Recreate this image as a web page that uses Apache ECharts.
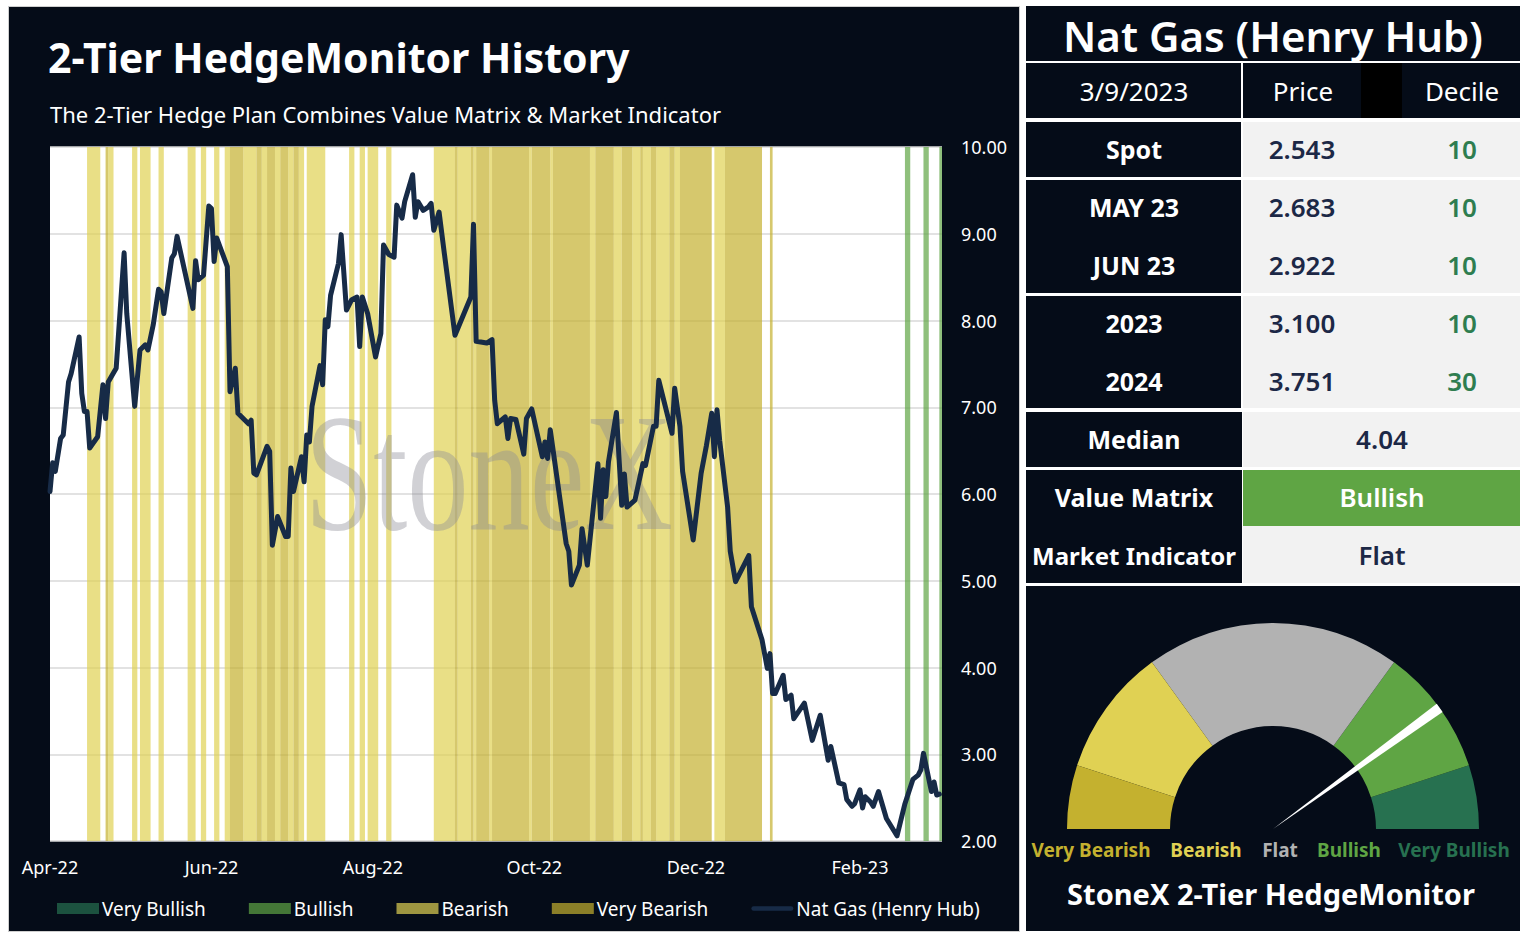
<!DOCTYPE html>
<html>
<head>
<meta charset="utf-8">
<script src="https://cdn.jsdelivr.net/npm/echarts@6/dist/echarts.min.js"></script>
<style>
html, body { margin: 0; padding: 0; background: #fff; }
#main { width: 1532px; height: 938px; }
</style>
</head>
<body>
<div id="main"></div>
<script>
// 数据 —— Henry Hub 价格
var priceDates = [
	'2022-04-01','2022-04-02','2022-04-03','2022-04-05','2022-04-06','2022-04-08','2022-04-09','2022-04-12','2022-04-13','2022-04-14',
	'2022-04-15','2022-04-16','2022-04-19','2022-04-21','2022-04-22','2022-04-23','2022-04-26','2022-04-29','2022-04-30','2022-05-03',
	'2022-05-05','2022-05-07','2022-05-08','2022-05-10','2022-05-12','2022-05-13','2022-05-14','2022-05-17','2022-05-18','2022-05-19',
	'2022-05-25','2022-05-26','2022-05-27','2022-05-29','2022-05-31','2022-06-01','2022-06-02','2022-06-03','2022-06-07','2022-06-08',
	'2022-06-10','2022-06-11','2022-06-15','2022-06-16','2022-06-17','2022-06-18','2022-06-22','2022-06-23','2022-06-24','2022-06-26',
	'2022-06-29','2022-06-30','2022-07-01','2022-07-02','2022-07-05','2022-07-06','2022-07-07','2022-07-08','2022-07-09','2022-07-12',
	'2022-07-13','2022-07-14','2022-07-15','2022-07-16','2022-07-19','2022-07-20','2022-07-22','2022-07-24','2022-07-26','2022-07-27',
	'2022-07-28','2022-07-30','2022-08-02','2022-08-04','2022-08-05','2022-08-07','2022-08-09','2022-08-10','2022-08-12','2022-08-13',
	'2022-08-16','2022-08-17','2022-08-18','2022-08-20','2022-08-22','2022-08-23','2022-08-24','2022-08-26','2022-08-28','2022-09-01',
	'2022-09-07','2022-09-08','2022-09-09','2022-09-13','2022-09-15','2022-09-16','2022-09-17','2022-09-20','2022-09-21','2022-09-22',
	'2022-09-24','2022-09-27','2022-09-28','2022-09-30','2022-10-04','2022-10-05','2022-10-06','2022-10-07','2022-10-13','2022-10-14',
	'2022-10-15','2022-10-18','2022-10-19','2022-10-21','2022-10-25','2022-10-26','2022-10-27','2022-10-28','2022-10-29','2022-11-01',
	'2022-11-03','2022-11-04','2022-11-05','2022-11-08','2022-11-11','2022-11-12','2022-11-15','2022-11-16','2022-11-17','2022-11-22',
	'2022-11-23','2022-11-25','2022-11-26','2022-11-30','2022-12-03','2022-12-05','2022-12-07','2022-12-08','2022-12-09','2022-12-10',
	'2022-12-13','2022-12-14','2022-12-16','2022-12-21','2022-12-22','2022-12-26','2022-12-28','2022-12-29','2022-12-30','2022-12-31',
	'2023-01-03','2023-01-04','2023-01-06','2023-01-07','2023-01-11','2023-01-14','2023-01-17','2023-01-20','2023-01-21','2023-01-24',
	'2023-01-26','2023-01-27','2023-01-29','2023-01-30','2023-02-01','2023-02-02','2023-02-03','2023-02-05','2023-02-06','2023-02-08',
	'2023-02-11','2023-02-15','2023-02-18','2023-02-21','2023-02-23','2023-02-24','2023-02-25','2023-02-28','2023-03-01','2023-03-02',
	'2023-03-03'
];
var priceValues = [
	6.03,6.36,6.26,6.64,6.68,7.29,7.39,7.81,7.16,6.95,
	6.95,6.53,6.66,7.26,6.87,7.29,7.45,8.78,8.08,7.01,
	7.66,7.72,7.66,7.95,8.36,8.33,8.08,8.72,8.77,8.97,
	8.14,8.69,8.47,8.52,9.32,9.29,8.68,8.95,8.62,7.18,
	7.45,6.93,6.81,6.85,6.24,6.22,6.55,6.49,5.41,5.74,
	5.51,5.51,6.30,6.03,6.43,6.14,6.68,6.60,7.01,7.48,
	7.26,8.01,7.93,8.29,8.66,8.99,8.12,8.24,8.27,7.70,
	8.27,8.08,7.58,7.85,8.87,8.76,8.73,9.33,9.18,9.37,
	9.68,9.19,9.37,9.27,9.31,9.35,9.04,9.25,8.77,7.83,
	8.27,9.11,7.76,7.74,7.78,7.08,6.81,6.89,6.64,6.87,
	6.86,6.46,6.87,6.98,6.43,6.60,6.41,6.74,5.43,5.34,
	4.95,5.18,5.60,5.18,6.35,5.72,6.28,5.97,6.37,6.94,
	5.87,6.23,5.85,5.93,6.35,6.33,6.78,6.78,7.31,6.70,
	7.22,6.78,6.26,5.47,6.24,6.56,6.93,6.43,6.97,6.62,
	5.85,5.34,4.99,5.29,4.70,4.32,3.99,4.16,3.70,3.70,
	3.91,3.63,3.68,3.41,3.59,3.16,3.45,2.93,3.09,2.67,
	2.65,2.48,2.40,2.43,2.59,2.38,2.51,2.45,2.40,2.57,
	2.26,2.06,2.43,2.71,2.76,2.82,3.01,2.57,2.68,2.53,
	2.54
];

// 信号区间 [开始, 结束]
var bearishRanges = [
	['2022-04-15','2022-04-20'],['2022-04-23','2022-04-25'],['2022-05-02','2022-05-04'],['2022-05-05','2022-05-09'],
	['2022-05-12','2022-05-14'],['2022-05-23','2022-05-26'],['2022-05-28','2022-05-30'],['2022-06-02','2022-06-04'],
	['2022-06-06','2022-06-08'],['2022-06-13','2022-06-18'],['2022-06-20','2022-06-22'],['2022-06-25','2022-06-27'],
	['2022-06-30','2022-07-02'],['2022-07-04','2022-07-06'],['2022-07-07','2022-07-14'],['2022-07-23','2022-07-25'],
	['2022-07-27','2022-07-29'],['2022-07-30','2022-08-03'],['2022-08-06','2022-08-08'],['2022-08-24','2022-09-01'],
	['2022-09-02','2022-09-07'],['2022-09-08','2022-09-09'],['2022-09-14','2022-09-15'],['2022-09-29','2022-09-30'],
	['2022-10-07','2022-10-08'],['2022-10-22','2022-10-24'],['2022-10-31','2022-11-03'],['2022-11-07','2022-11-10'],
	['2022-11-11','2022-11-14'],['2022-11-16','2022-11-21'],['2022-11-23','2022-11-25'],['2022-12-08','2022-12-12']
];
var veryBearishRanges = [
	['2022-04-22','2022-04-23'],['2022-06-08','2022-06-13'],['2022-06-18','2022-06-20'],['2022-06-22','2022-06-25'],
	['2022-06-27','2022-06-30'],['2022-07-02','2022-07-04'],['2022-09-01','2022-09-02'],['2022-09-07','2022-09-08'],
	['2022-09-09','2022-09-14'],['2022-09-15','2022-09-29'],['2022-09-30','2022-10-07'],['2022-10-08','2022-10-22'],
	['2022-10-24','2022-10-31'],['2022-11-03','2022-11-07'],['2022-11-10','2022-11-11'],['2022-11-14','2022-11-16'],
	['2022-11-21','2022-11-23'],['2022-11-25','2022-12-07'],['2022-12-12','2022-12-26'],['2022-12-29','2022-12-30']
];
var bullishRanges = [
	['2023-02-18','2023-02-20'],['2023-02-25','2023-02-27'],['2023-03-03','2023-03-04']
];
var veryBullishRanges = [];

// 坐标轴
var xStart = '2022-04-01', xEnd = '2023-03-04';
var monthTicks = ['2022-04-01','2022-06-01','2022-08-01','2022-10-01','2022-12-01','2023-02-01'];
var monthLabels = ['Apr-22','Jun-22','Aug-22','Oct-22','Dec-22','Feb-23'];

// 右侧表格
var tableDate = '3/9/2023';
var tableCols = ['Price', 'Decile'];
var contractNames = ['Spot', 'MAY 23', 'JUN 23', '2023', '2024'];
var contractPrices = ['2.543', '2.683', '2.922', '3.100', '3.751'];
var contractDeciles = ['10', '10', '10', '10', '30'];
var medianValue = '4.04';
var signalNames = ['Value Matrix', 'Market Indicator'];
var signalValues = ['Bullish', 'Flat'];

// 仪表盘
var gaugeLabels = ['Very Bearish', 'Bearish', 'Flat', 'Bullish', 'Very Bullish'];
var gaugeStops = [0.1, 0.3, 0.7, 0.9, 1];
var gaugeReading = 0.8;

var FONT = '"Noto Sans", Lato, sans-serif';
var NAVY = '#050c18';
var colorHM = [
	'#c4b12f',   // very bearish
	'#e0d153',   // bearish
	'#b2b2b2',   // flat
	'#5fa544',   // bullish
	'#277150',   // very bullish
	'#172b47',   // 折线
	'#1c2846',   // 价格字
	'#2e7d50'    // decile 字
];
var bandAlpha = { '#c4b12f': 'rgba(196,177,47,0.7)', '#e0d153': 'rgba(224,209,83,0.7)',
	'#5fa544': 'rgba(95,165,68,0.7)', '#277150': 'rgba(39,113,80,0.7)' };

function ts(s){ return echarts.number.parseDate(s).getTime(); }
var tickTimes = monthTicks.map(ts);
var DAY = 86400000;

function txt(x, y, s, size, color, weight, align){
	return {
		type: 'text', x: x, y: y, z: 10, silent: true,
		style: {
			text: s, fill: color,
			font: (weight || 'normal') + ' ' + size + 'px ' + FONT,
			textAlign: align || 'center', textVerticalAlign: 'middle'
		}
	};
}
function box(x, y, w, h, fill, z){
	return { type: 'rect', z: z || 0, silent: true, shape: { x: x, y: y, width: w, height: h }, style: { fill: fill } };
}

// 背景与表格
function GetGraphic(){
	var g = [];
	g.push({ type: 'rect', z: 0, silent: true, shape: { x: 8.5, y: 6.5, width: 1011, height: 925 },
		style: { fill: NAVY, stroke: '#cfcfcf', lineWidth: 1 } });
	g.push(box(50, 147, 892, 694, '#fff', 0));
	g.push(txt(48, 57, '2-Tier HedgeMonitor History', 41, '#fff', 'bold', 'left'));
	g.push(txt(50, 114, 'The 2-Tier Hedge Plan Combines Value Matrix & Market Indicator', 22, '#fff', 'normal', 'left'));
	// 水印
	g.push({ type: 'text', x: 305, y: 472, scaleX: 0.73, z: 2, silent: true,
		style: { text: 'StoneX', font: '168px "Liberation Serif", "DejaVu Serif", serif',
			fill: 'rgba(140,140,150,0.40)', textAlign: 'left', textVerticalAlign: 'middle' } });

	// 右侧面板
	g.push(box(1026, 6, 494, 55, NAVY));
	g.push(txt(1273, 35, 'Nat Gas (Henry Hub)', 42, '#fff', '600'));
	g.push(box(1026, 63, 215, 55, NAVY));
	g.push(box(1243, 63, 277, 55, NAVY));
	g.push(box(1361, 63, 41, 55, '#000'));
	g.push(txt(1134, 91, tableDate, 26, '#fff'));
	g.push(txt(1303, 91, tableCols[0], 26, '#fff'));
	g.push(txt(1462, 91, tableCols[1], 26, '#fff'));

	var blocks = [[122, 55], [180, 113], [296, 112]];
	var rowY = [149, 207, 265, 323, 381];
	blocks.forEach(function(b){
		g.push(box(1026, b[0], 215, b[1], NAVY));
		g.push(box(1243, b[0], 277, b[1], '#f2f2f2'));
	});
	contractNames.forEach(function(n, i){
		g.push(txt(1134, rowY[i], n, 25, '#fff', 'bold'));
		g.push(txt(1302, rowY[i], contractPrices[i], 26, colorHM[6], '600'));
		g.push(txt(1462, rowY[i], contractDeciles[i], 26, colorHM[7], '600'));
	});
	g.push(box(1026, 412, 216, 55, NAVY));
	g.push(box(1243, 412, 277, 55, '#f2f2f2'));
	g.push(txt(1134, 439, 'Median', 25, '#fff', 'bold'));
	g.push(txt(1382, 439, medianValue, 26, colorHM[6], '600'));

	g.push(box(1026, 470, 216, 113, NAVY));
	g.push(box(1243, 470, 277, 56, colorHM[3]));
	g.push(box(1243, 526, 277, 57, '#f2f2f2'));
	g.push(txt(1134, 497, signalNames[0], 25, '#fff', 'bold'));
	g.push(txt(1134, 555, signalNames[1], 24, '#fff', 'bold'));
	g.push(txt(1382, 497, signalValues[0], 26, '#fff', '600'));
	g.push(txt(1382, 555, signalValues[1], 26, colorHM[6], '600'));

	// 仪表盘面板
	g.push(box(1026, 586, 494, 345, NAVY));
	var labelX = [1091, 1206, 1280, 1349, 1454];
	gaugeLabels.forEach(function(l, i){
		g.push(txt(labelX[i], 850, l, 19, colorHM[i], 'bold'));
	});
	g.push(txt(1271, 893, 'StoneX 2-Tier HedgeMonitor', 29, '#fff', 'bold'));
	return g;
}

function GetBandSeries(name, color, ranges){
	var c = bandAlpha[color];
	return {
		name: name, type: 'line', data: [], silent: true,
		itemStyle: { color: c }, lineStyle: { color: c },
		markArea: {
			silent: true,
			itemStyle: { color: c, opacity: 1, borderWidth: 0 },
			data: ranges.map(function(r){ return [{ xAxis: r[0] }, { xAxis: r[1] }]; })
		}
	};
}

var chart = echarts.init(document.getElementById('main'), null, { renderer: 'svg' });
chart.setOption({
	animation: false,
	backgroundColor: '#fff',
	graphic: { elements: GetGraphic() },
	grid: { left: 50, top: 147, width: 892, height: 694, containLabel: false },
	legend: {
		left: 52, top: 894, itemWidth: 42, itemHeight: 11, itemGap: 43,
		symbolKeepAspect: true,
		textStyle: { color: '#fff', fontSize: 19, fontFamily: FONT, padding: [0, 0, 0, -2] },
		data: [
			{ name: 'Very Bullish', icon: 'rect' },
			{ name: 'Bullish', icon: 'rect' },
			{ name: 'Bearish', icon: 'rect' },
			{ name: 'Very Bearish', icon: 'rect' },
			{ name: 'Nat Gas (Henry Hub)',
				icon: 'path://M2.5,0 L43.5,0 A2.5,2.5 0 0 1 43.5,5 L2.5,5 A2.5,2.5 0 0 1 2.5,0 Z' }
		]
	},
	xAxis: {
		type: 'time', min: ts(xStart), max: ts(xEnd),
		minInterval: 28 * DAY, maxInterval: 32 * DAY,
		axisLine: { show: false }, axisTick: { show: false }, splitLine: { show: false },
		axisLabel: {
			color: '#fff', fontSize: 18, fontFamily: FONT, margin: 17, hideOverlap: false,
			showMinLabel: true, showMaxLabel: false,
			formatter: function(v){
				for (var i = 0; i < tickTimes.length; i++) {
					if (Math.abs(tickTimes[i] - v) < DAY / 2) return monthLabels[i];
				}
				return '';
			}
		}
	},
	yAxis: {
		type: 'value', position: 'right', min: 2, max: 10, interval: 1,
		axisLine: { show: false }, axisTick: { show: false },
		splitLine: { lineStyle: { color: '#d9d9d9', width: 1.5 } },
		axisLabel: { color: '#fff', fontSize: 18, fontFamily: FONT, margin: 19,
			formatter: function(v){ return v.toFixed(2); } }
	},
	series: [
		GetBandSeries('Very Bullish', colorHM[4], veryBullishRanges),
		GetBandSeries('Bullish', colorHM[3], bullishRanges),
		GetBandSeries('Bearish', colorHM[1], bearishRanges),
		GetBandSeries('Very Bearish', colorHM[0], veryBearishRanges),
		{
			name: 'Nat Gas (Henry Hub)', type: 'line', z: 3, silent: true,
			symbol: 'none', showSymbol: false,
			lineStyle: { color: colorHM[5], width: 5, join: 'round', cap: 'round' },
			itemStyle: { color: colorHM[5] },
			data: priceDates.map(function(d, i){ return [d, priceValues[i]]; })
		},
		{
			type: 'gauge', center: [1273, 829], radius: 206,
			startAngle: 180, endAngle: 0, min: 0, max: 1, silent: true,
			axisLine: { lineStyle: { width: 103,
				color: gaugeStops.map(function(s, i){ return [s, colorHM[i]]; }) } },
			splitLine: { show: false }, axisTick: { show: false }, axisLabel: { show: false },
			pointer: { icon: 'path://M0,0 L10,0 L5,100 Z', length: '100%', width: 10,
				itemStyle: { color: '#fff' } },
			anchor: { show: false }, title: { show: false }, detail: { show: false },
			data: [{ value: gaugeReading }]
		}
	]
});
</script>
</body>
</html>
